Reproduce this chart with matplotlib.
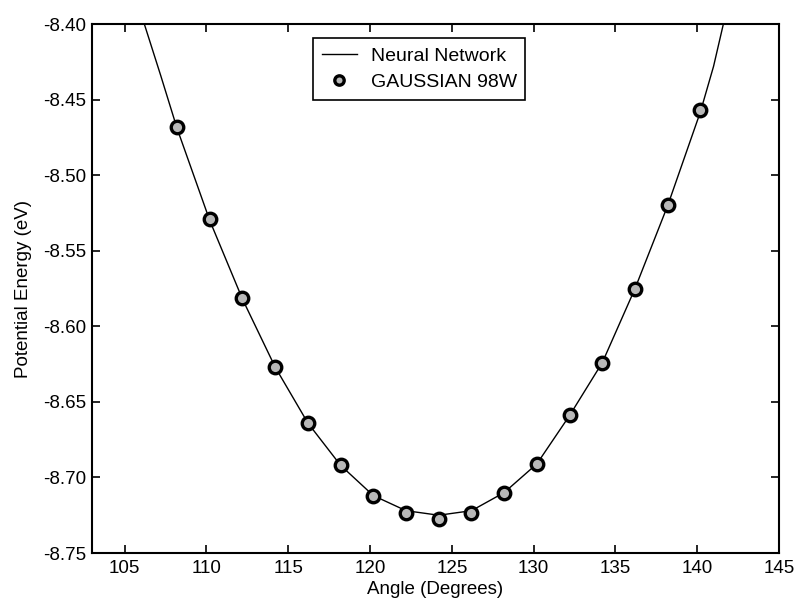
import numpy as np
import matplotlib.pyplot as plt

plt.rcParams['font.family'] = ['Liberation Sans', 'DejaVu Sans']
plt.rcParams['axes.unicode_minus'] = False

# GAUSSIAN 98W points
angle = [108.2, 110.2, 112.2, 114.2, 116.2, 118.2, 120.2, 122.2, 124.2,
         126.2, 128.2, 130.2, 132.2, 134.2, 136.2, 138.2, 140.2]
energy = [-8.468, -8.529, -8.581, -8.627, -8.664, -8.692, -8.712, -8.7235, -8.7275,
          -8.7235, -8.710, -8.691, -8.659, -8.624, -8.575, -8.520, -8.457]

# neural network curve
nn_angle = [105.9, 106.2, 107.2, 108.2, 110.2, 112.2, 114.2, 116.2, 118.2, 120.2, 122.2,
            124.2, 126.2, 128.2, 130.2, 132.2, 134.2, 136.2, 138.2, 140.2, 141.0, 141.6, 141.9]
nn_energy = [-8.385, -8.400, -8.434, -8.469, -8.530, -8.582, -8.627, -8.664, -8.692, -8.712, -8.722,
             -8.725, -8.722, -8.710, -8.691, -8.659, -8.624, -8.575, -8.520, -8.458, -8.428, -8.400, -8.385]

fig = plt.figure(figsize=(7.97, 6.11), dpi=100)
ax = fig.add_axes([0.1154, 0.0949, 0.862, 0.8658])

ax.plot(nn_angle, nn_energy, color='black', lw=1.0, label='Neural Network')
ax.plot(angle, energy, 'o', ms=9, mfc='#b8b8b8', mec='black', mew=2.4, label='GAUSSIAN 98W')

ax.set_xlim(103, 145)
ax.set_ylim(-8.75, -8.40)
ax.set_xticks(np.arange(105, 146, 5))
ax.set_yticks(np.arange(-8.75, -8.39, 0.05))
ax.set_yticklabels(['%.2f' % v for v in np.arange(-8.75, -8.39, 0.05)])
ax.tick_params(direction='in', top=True, right=True, labelsize=13.5, length=6, width=1.2, pad=5)
ax.tick_params(axis='y', pad=4)
for s in ax.spines.values():
    s.set_linewidth(1.5)

ax.set_xlabel('Angle (Degrees)', fontsize=13.5, labelpad=3)
ax.set_ylabel('Potential Energy (eV)', fontsize=13.5, labelpad=8)

leg = ax.legend(loc='upper left', bbox_to_anchor=(0.322, 0.973), borderaxespad=0,
                fancybox=False, edgecolor='black', framealpha=1, fontsize=14,
                handlelength=1.8, handletextpad=0.7, borderpad=0.45, labelspacing=0.45,
                markerscale=0.75)
leg.get_frame().set_linewidth(1.2)

fig.savefig('out.png', dpi=100)
